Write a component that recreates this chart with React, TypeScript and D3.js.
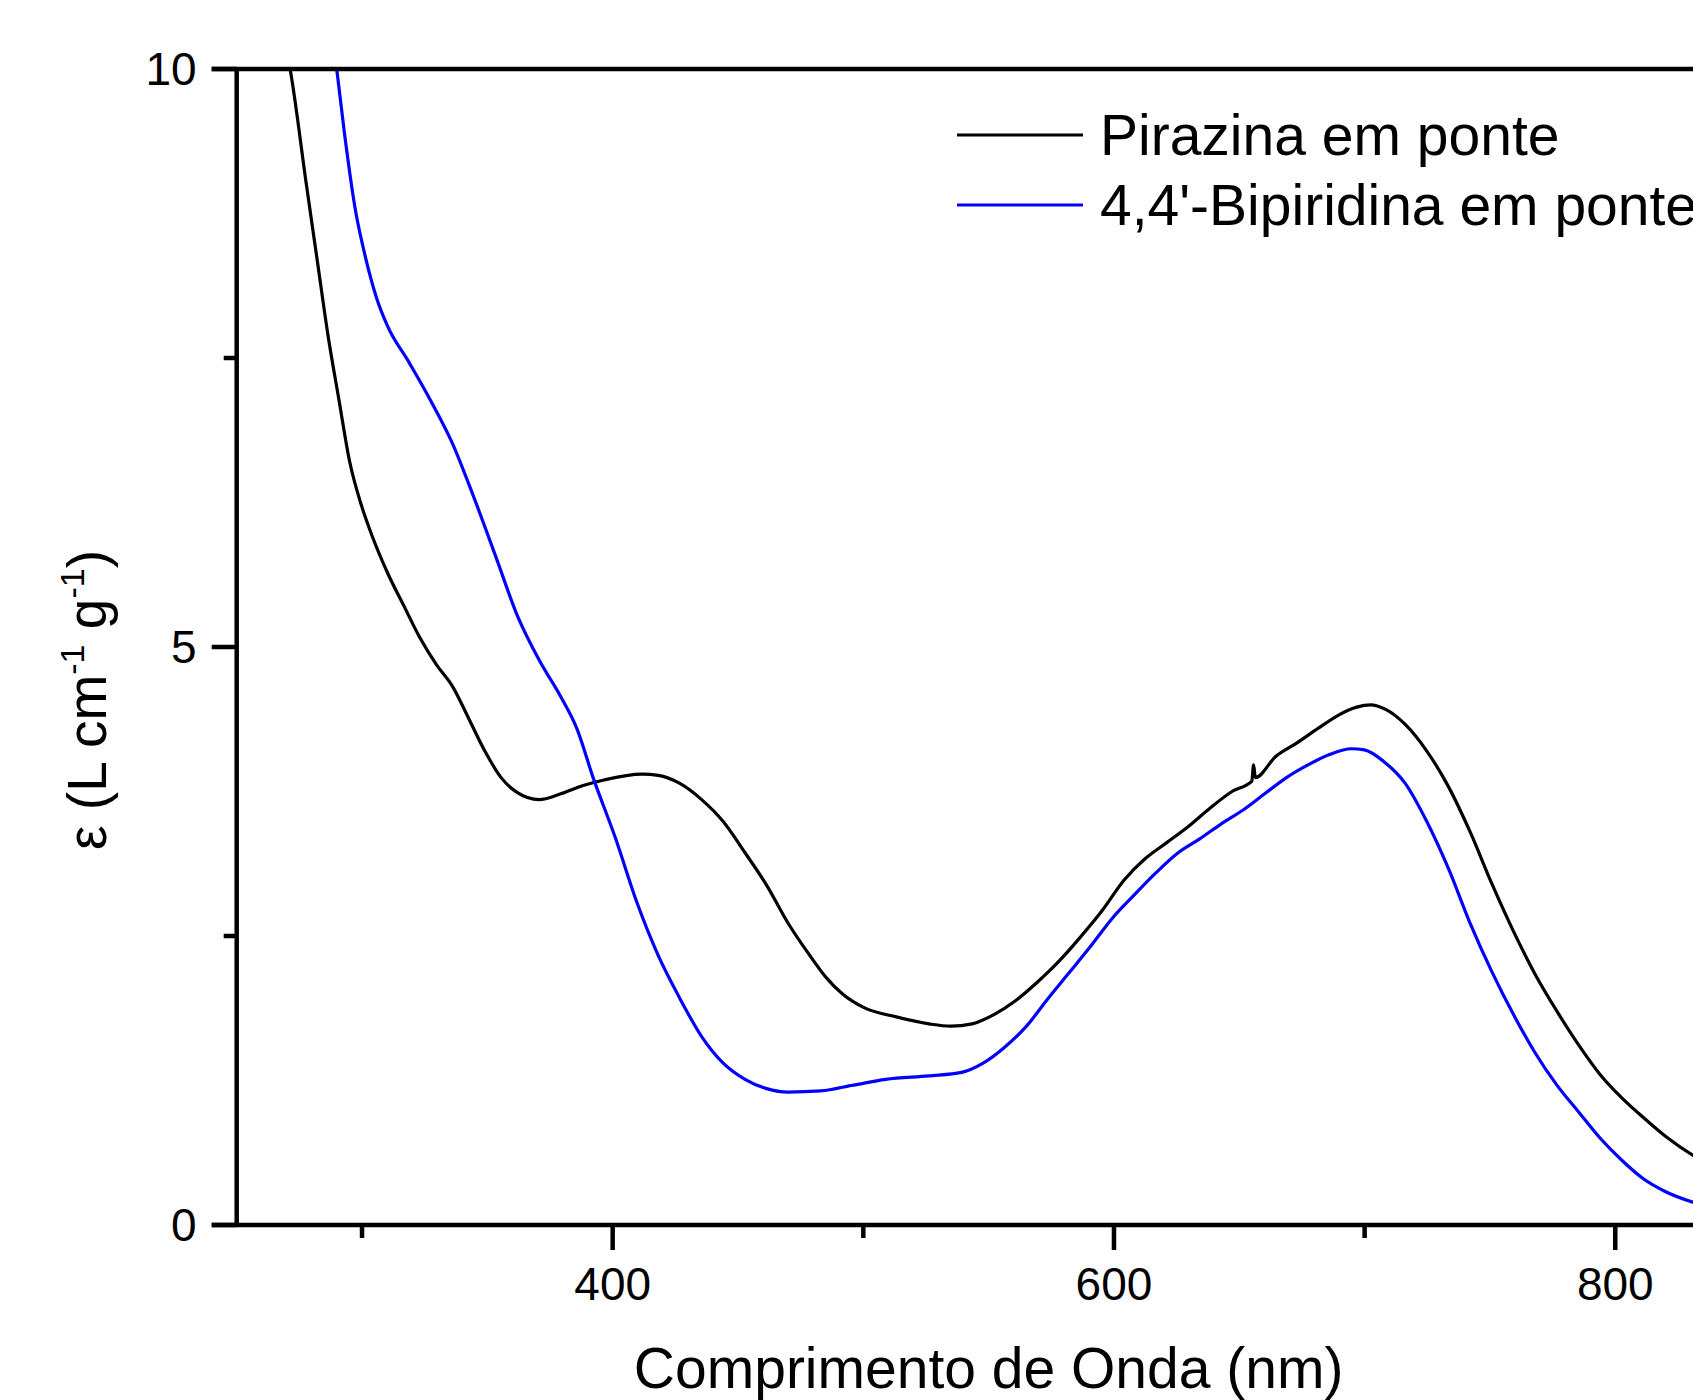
import React from 'react';
import * as d3 from 'd3';

// Pirazina em ponte (black)
const pirNm = [266, 271.3, 277.8, 282.1, 286.4, 290.7, 295.1, 299.4, 303.7, 310.2, 316.6, 323.1, 329.6, 336.1, 342.6, 349.0, 355.5, 362.0, 370.6, 379.3, 387.9, 396.5, 411.7, 418.2, 426.8, 435.5, 444.1, 452.8, 461.4, 470.0, 478.7, 485.2, 491.6, 500.3, 513.2, 526.2, 534.8, 543.4, 552.1, 560.7, 569.4, 578.0, 586.6, 595.3, 603.9, 612.5, 621.2, 629.8, 638.5, 647.1, 655.0, 655.7, 656.4, 664.4, 673.0, 681.7, 690.3, 696.8, 702.4, 708.4, 716.2, 724.8, 733.5, 742.1, 750.8, 759.4, 768.0, 776.7, 785.3, 794.0, 802.6, 811.2, 819.9, 832.0, 845];
const pirEps = [10.5, 10.0, 9.0, 8.35, 7.7, 7.15, 6.6, 6.25, 5.98, 5.64, 5.36, 5.08, 4.85, 4.66, 4.38, 4.1, 3.87, 3.74, 3.68, 3.73, 3.8, 3.85, 3.9, 3.89, 3.82, 3.68, 3.49, 3.22, 2.94, 2.61, 2.33, 2.14, 2.0, 1.88, 1.8, 1.74, 1.72, 1.74, 1.82, 1.94, 2.1, 2.28, 2.49, 2.72, 2.98, 3.17, 3.31, 3.45, 3.61, 3.75, 3.84, 3.98, 3.87, 4.05, 4.17, 4.3, 4.42, 4.48, 4.5, 4.46, 4.33, 4.1, 3.79, 3.4, 2.95, 2.54, 2.17, 1.85, 1.56, 1.3, 1.1, 0.93, 0.77, 0.59, 0.45];

// 4,4'-Bipiridina em ponte (blue)
const bipNm = [288, 289.9, 292.9, 297.2, 301.5, 305.8, 310.1, 318.8, 327.4, 336.1, 344.7, 353.4, 362.0, 370.6, 379.3, 385.8, 392.2, 400.9, 409.5, 418.2, 426.8, 435.5, 444.1, 452.8, 461.4, 470.0, 483.0, 496.0, 508.9, 526.2, 539.2, 547.8, 556.5, 565.1, 573.7, 582.4, 591.0, 599.6, 608.3, 616.9, 625.6, 634.2, 642.8, 651.5, 660.1, 668.8, 677.4, 686.0, 694.7, 699.9, 707.6, 716.2, 724.8, 733.5, 742.1, 750.8, 759.4, 768.0, 776.7, 785.3, 794.0, 802.6, 811.2, 819.9, 832.0, 845];
const bipEps = [10.3, 10.0, 9.46, 8.8, 8.36, 8.02, 7.78, 7.46, 7.13, 6.76, 6.29, 5.78, 5.27, 4.89, 4.57, 4.29, 3.87, 3.36, 2.8, 2.33, 1.96, 1.63, 1.4, 1.26, 1.18, 1.15, 1.16, 1.21, 1.26, 1.29, 1.32, 1.4, 1.54, 1.72, 1.96, 2.19, 2.42, 2.66, 2.86, 3.05, 3.22, 3.34, 3.47, 3.59, 3.73, 3.87, 3.98, 4.07, 4.12, 4.11, 4.01, 3.82, 3.49, 3.08, 2.61, 2.19, 1.82, 1.49, 1.21, 0.98, 0.75, 0.56, 0.4, 0.29, 0.19, 0.12];

const xMajor = [400, 600, 800];
const xMinor = [300, 500, 700];
const yMajor = [0, 5, 10];
const yMinor = [2.5, 7.5];
const legendLabels = ['Pirazina em ponte', "4,4'-Bipiridina em ponte"];
const seriesColors = ['#000000', '#0000ff'];

const W = 1693;
const H = 1400;
const FONT = 'Arial, "Liberation Sans", sans-serif';

export default function App() {
  const x = d3.scaleLinear().domain([250, 850]).range([236.7, 1740.6]);
  const y = d3.scaleLinear().domain([0, 10]).range([1225, 69]);
  const line = d3
    .line<[number, number]>()
    .x(d => x(d[0]))
    .y(d => y(d[1]))
    .curve(d3.curveMonotoneX);

  const series = [
    pirNm.map((v, i) => [v, pirEps[i]] as [number, number]),
    bipNm.map((v, i) => [v, bipEps[i]] as [number, number]),
  ];

  const x0 = x(250);
  const y0 = y(0);
  const yTop = y(10);
  const major = 25;
  const minor = 13;

  return (
    <svg
      width={W}
      height={H}
      style={{ position: 'absolute', left: 0, top: 0, background: '#fff' }}
      fontFamily={FONT}
    >
      <defs>
        <clipPath id="plot-clip">
          <rect x={x0} y={yTop} width={W - x0} height={y0 - yTop} />
        </clipPath>
      </defs>

      {/* data */}
      <g clipPath="url(#plot-clip)">
        {series.map((s, i) => (
          <path key={i} d={line(s) ?? ''} fill="none" stroke={seriesColors[i]} strokeWidth={3.2} strokeLinejoin="round" />
        ))}
      </g>

      {/* axes */}
      <g stroke="#000" strokeWidth={4.5} strokeLinecap="butt">
        <line x1={x0 - major} x2={W} y1={y0} y2={y0} />
        <line x1={x0 - major} x2={W} y1={yTop} y2={yTop} />
        <line x1={x0} x2={x0} y1={yTop - 2} y2={y0 + 2} />
        {xMajor.map(v => (
          <line key={v} x1={x(v)} x2={x(v)} y1={y0} y2={y0 + major} />
        ))}
        {xMinor.map(v => (
          <line key={v} x1={x(v)} x2={x(v)} y1={y0} y2={y0 + minor} />
        ))}
        {yMajor.map(v => (
          <line key={v} x1={x0 - major} x2={x0} y1={y(v)} y2={y(v)} />
        ))}
        {yMinor.map(v => (
          <line key={v} x1={x0 - minor} x2={x0} y1={y(v)} y2={y(v)} />
        ))}
      </g>

      {/* tick labels */}
      {xMajor.map(v => (
        <text key={v} x={x(v)} y={y0 + 75} textAnchor="middle" fontSize={46}>
          {v}
        </text>
      ))}
      {yMajor.map(v => (
        <text key={v} x={x0 - 40} y={y(v) + 16} textAnchor="end" fontSize={46}>
          {v}
        </text>
      ))}

      {/* axis titles */}
      <text x={(x(250) + x(850)) / 2} y={1388} textAnchor="middle" fontSize={57}>
        Comprimento de Onda (nm)
      </text>
      <text transform="translate(106,700) rotate(-90)" textAnchor="middle" fontSize={55}>
        ε (L cm
        <tspan fontSize={34} dy={-22}>-1</tspan>
        <tspan dy={22}> g</tspan>
        <tspan fontSize={34} dy={-22}>-1</tspan>
        <tspan dy={22}>)</tspan>
      </text>

      {/* legend */}
      {legendLabels.map((lab, i) => (
        <g key={lab}>
          <line x1={957} x2={1083} y1={135 + i * 70} y2={135 + i * 70} stroke={seriesColors[i]} strokeWidth={3} />
          <text x={1100} y={155 + i * 70} fontSize={57}>
            {lab}
          </text>
        </g>
      ))}
    </svg>
  );
}
